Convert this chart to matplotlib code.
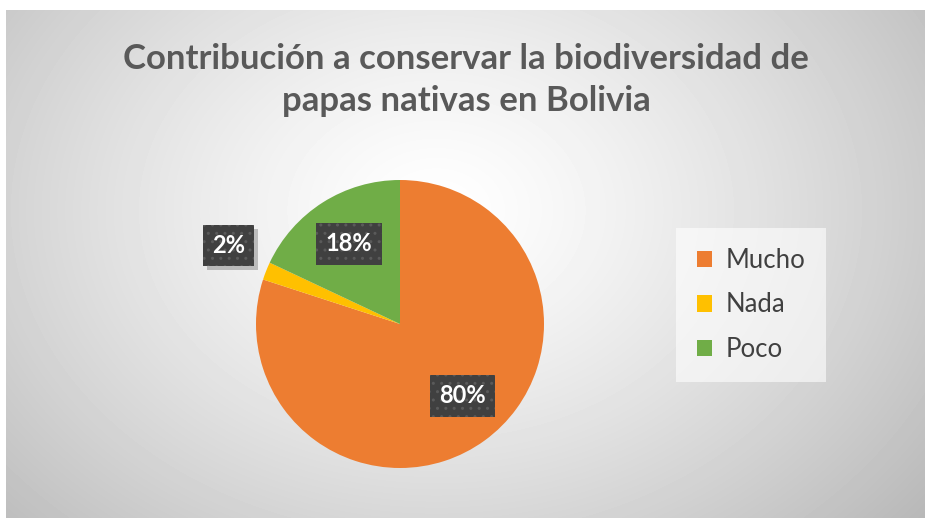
import numpy as np
import matplotlib
matplotlib.use("Agg")
import matplotlib.pyplot as plt
from matplotlib.patches import Rectangle

# data
categories = ["Mucho", "Nada", "Poco"]
values = [80, 2, 18]
colors = ["#ED7D31", "#FFC000", "#70AD47"]
pct_labels = ["80%", "2%", "18%"]
title = "Contribución a conservar la biodiversidad de\npapas nativas en Bolivia"

plt.rcParams["font.family"] = ["Lato", "DejaVu Sans"]

fig = plt.figure(figsize=(9.25, 5.18), dpi=100)

# radial grey background of the chart area
bg = fig.add_axes([6 / 925, 0, 919 / 925, 508 / 518])
yy, xx = np.mgrid[0:508, 0:919]
r = np.hypot((xx - 430) / 560, (yy - 200) / 430)
shade = np.clip(1 - 0.24 * r ** 1.3, 0, 1)
bg.imshow(shade, cmap="gray", vmin=0, vmax=1, aspect="auto",
          extent=[0, 1, 0, 1], origin="upper")
bg.set_axis_off()

fig.text(466 / 925, 1 - 80 / 518, title, ha="center", va="center",
         fontsize=25, fontweight="bold", color="#595959", linespacing=1.35)

ax = fig.add_axes([256 / 925, 50 / 518, 288 / 925, 288 / 518])
wedges, _ = ax.pie(values, colors=colors, startangle=90, counterclock=False,
                   radius=1, wedgeprops=dict(linewidth=0))
ax.set_xlim(-1, 1)
ax.set_ylim(-1, 1)
ax.set_aspect("equal")

# label placement: distance from centre and angle tweak per slice
label_dist = [0.66, 1.31, 0.66]
label_shift = [5, -3, 0]
texts = []
for w, lab, d, s in zip(wedges, pct_labels, label_dist, label_shift):
    ang = np.deg2rad((w.theta1 + w.theta2) / 2 + s)
    x, y = d * np.cos(ang), d * np.sin(ang)
    t = ax.text(x, y, lab, ha="center", va="center", fontsize=17, fontweight="bold",
                color="white", zorder=5,
                bbox=dict(boxstyle="square,pad=0.4", fc="#404040", ec="#5a5a5a",
                          lw=0, hatch=".."))
    texts.append(t)

# soft drop shadow behind each label box
fig.canvas.draw()
for t in texts:
    bb = t.get_bbox_patch().get_window_extent()
    fig.patches.append(Rectangle((bb.x0 + 4, bb.y0 - 4), bb.width, bb.height,
                                 transform=None, fc="black", alpha=0.22, lw=0,
                                 zorder=1))
ax.set_zorder(2)
for t in texts:
    t.get_bbox_patch().set_zorder(5)

leg = fig.legend(wedges, categories, loc="center",
                 bbox_to_anchor=(751 / 925, 1 - 305 / 518), frameon=True,
                 fontsize=18.5, labelcolor="#404040", handlelength=0.6,
                 handleheight=0.6, handletextpad=0.5, labelspacing=0.75,
                 borderpad=0.8, borderaxespad=0, fancybox=False)
leg.get_frame().set_facecolor("white")
leg.get_frame().set_alpha(0.6)
leg.get_frame().set_linewidth(0)

fig.savefig("out.png", dpi=100)
